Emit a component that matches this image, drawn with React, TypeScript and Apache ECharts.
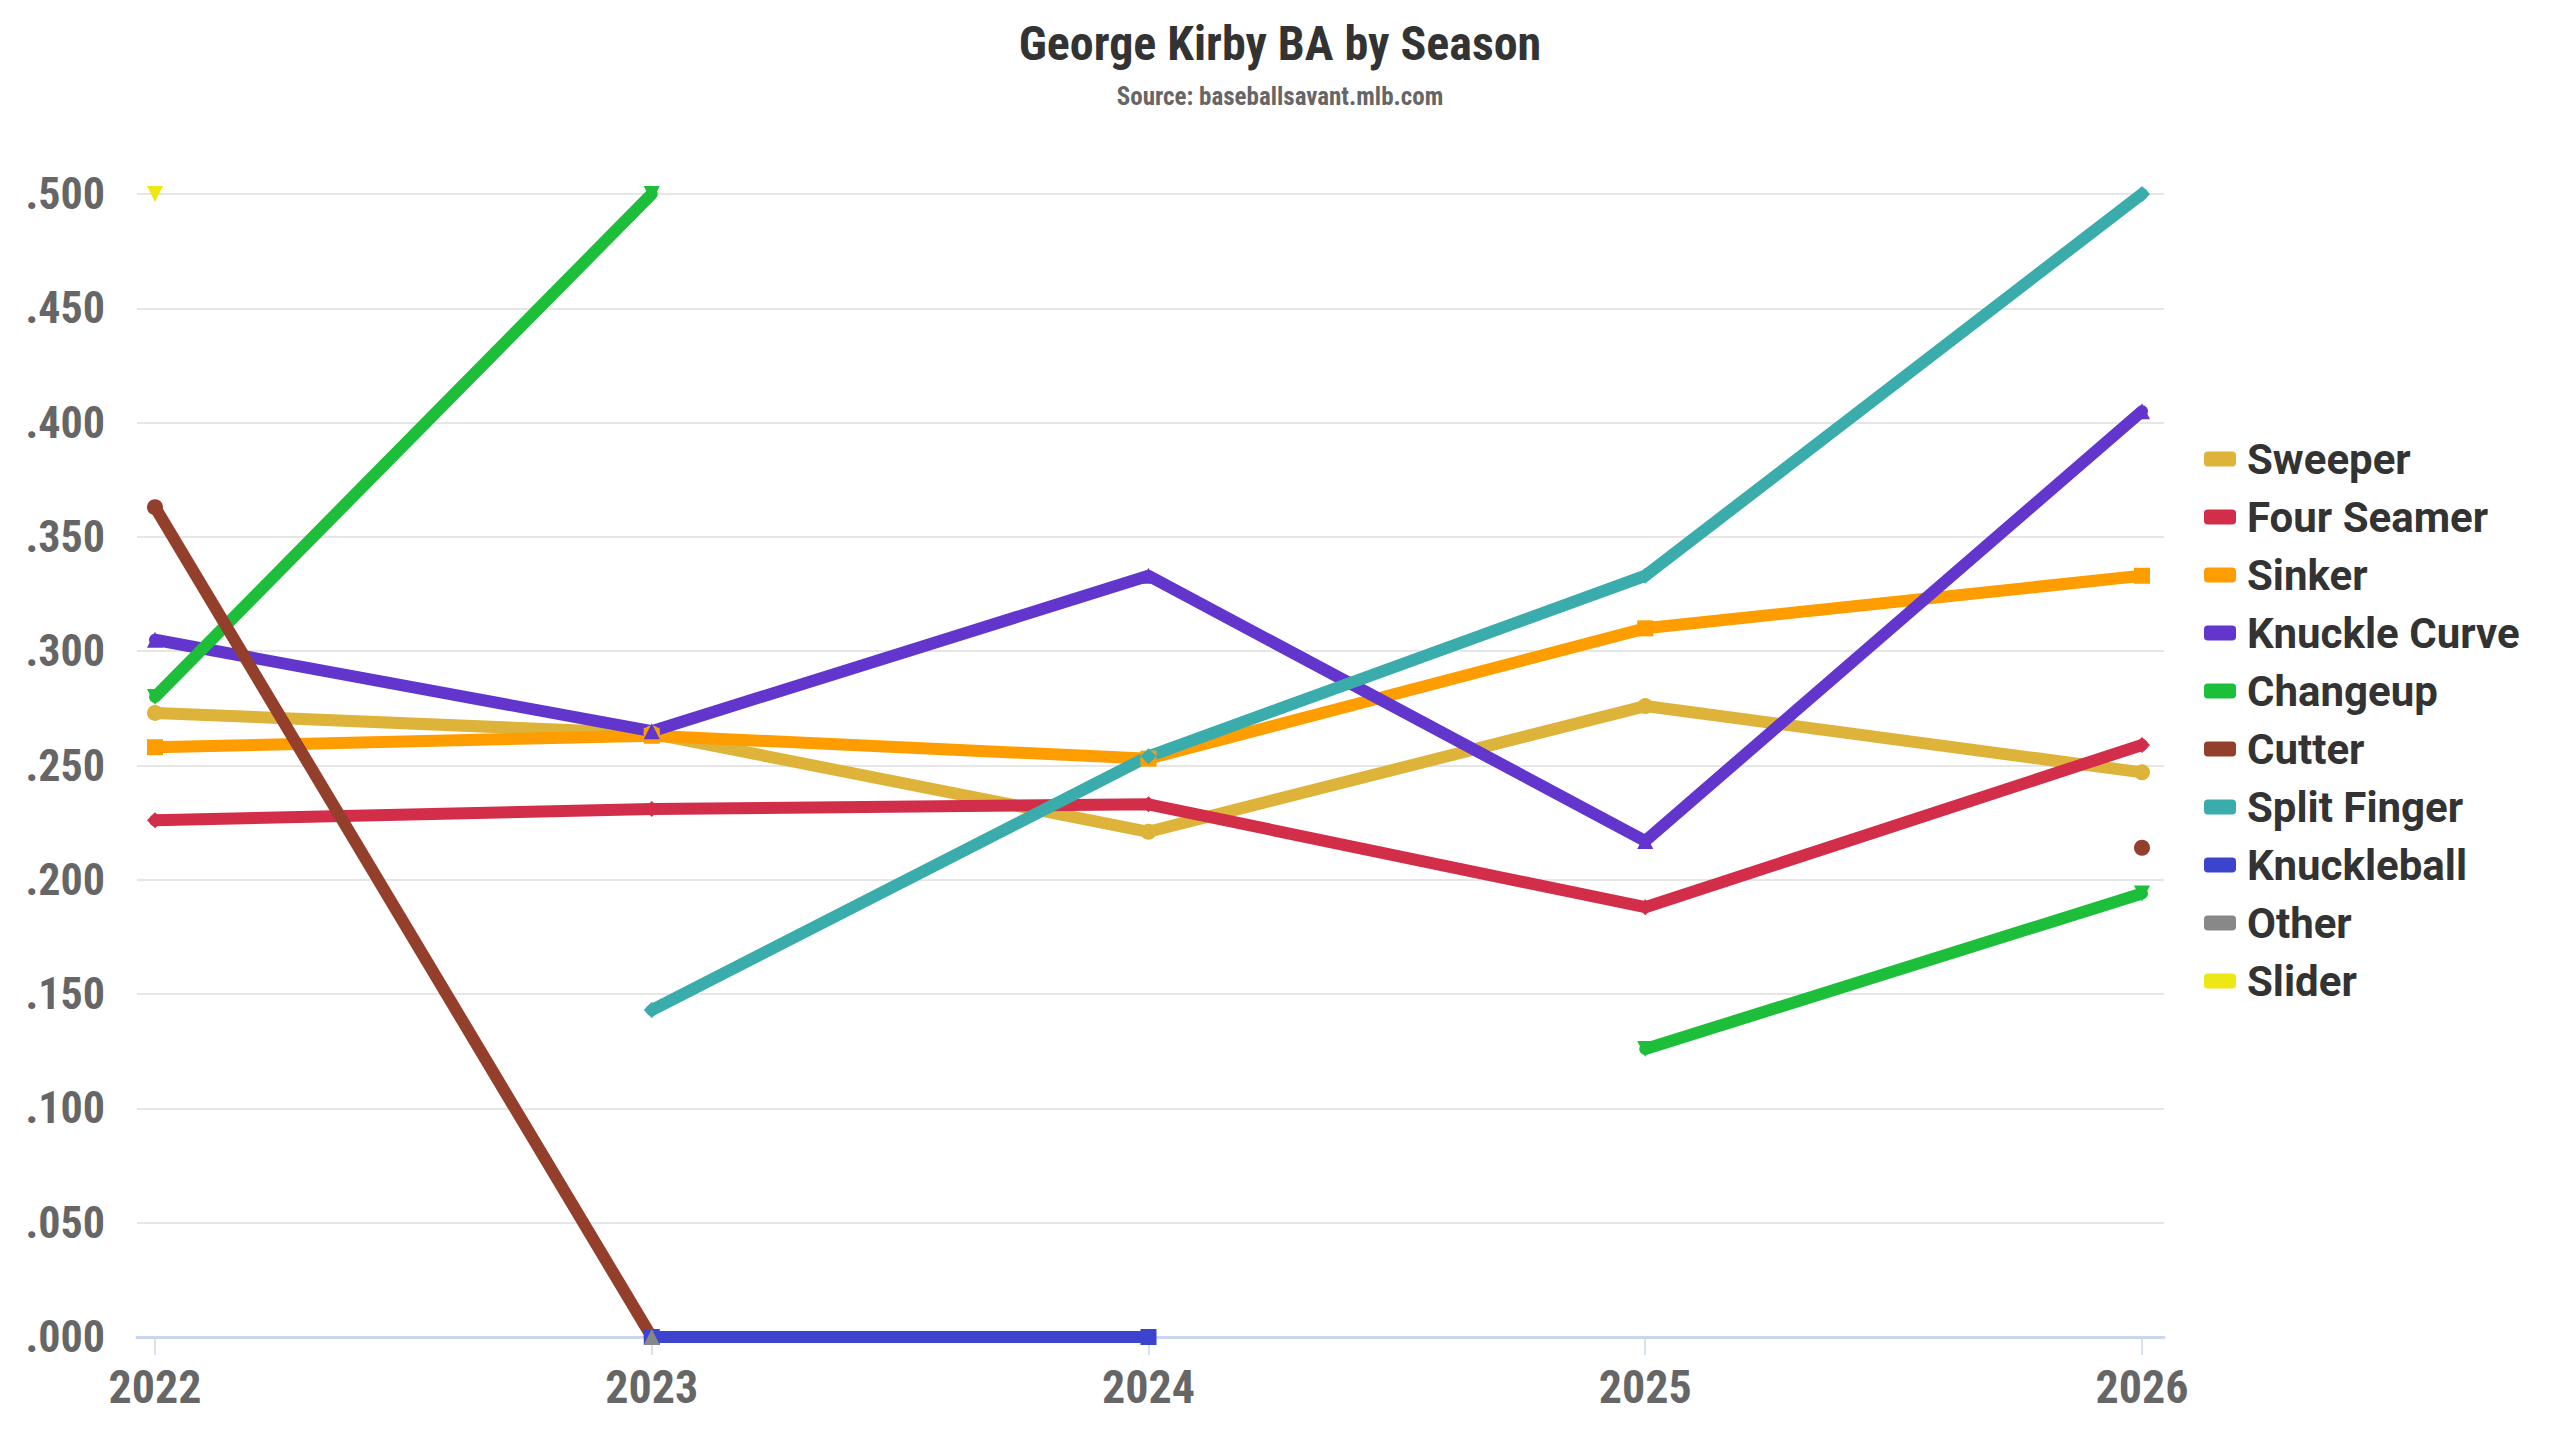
import React, { useEffect, useRef } from "react";
import * as echarts from "echarts";

const seasons = [2022, 2023, 2024, 2025, 2026];
const yTicks = [0, 0.05, 0.1, 0.15, 0.2, 0.25, 0.3, 0.35, 0.4, 0.45, 0.5];

const pitchNames = [
  "Sweeper",
  "Four Seamer",
  "Sinker",
  "Knuckle Curve",
  "Changeup",
  "Cutter",
  "Split Finger",
  "Knuckleball",
  "Other",
  "Slider",
];

const sweeper = [0.273, 0.264, 0.221, 0.276, 0.247];
const fourSeamer = [0.226, 0.231, 0.233, 0.188, 0.259];
const sinker = [0.258, 0.263, 0.253, 0.31, 0.333];
const knuckleCurve = [0.305, 0.265, 0.333, 0.217, 0.405];
const changeup = [0.28, 0.5, null, 0.126, 0.194];
const cutter = [0.363, 0.0, null, null, 0.214];
const splitFinger = [null, 0.143, 0.254, 0.333, 0.5];
const knuckleball = [null, 0.0, 0.0, null, null];
const other = [null, 0.0, null, null, null];
const slider = [0.5, null, null, null, null];

const seriesValues = [
  sweeper,
  fourSeamer,
  sinker,
  knuckleCurve,
  changeup,
  cutter,
  splitFinger,
  knuckleball,
  other,
  slider,
];

const colors = [
  "#DDB33A",
  "#D22D49",
  "#FE9D00",
  "#6236CD",
  "#1DBE3A",
  "#933F2C",
  "#3BACAC",
  "#3C44CD",
  "#888888",
  "#EEE716",
];

const symbols = [
  "circle",
  "diamond",
  "rect",
  "triangle",
  "path://M0,0 L10,0 L5,10 Z",
  "circle",
  "diamond",
  "rect",
  "triangle",
  "path://M0,0 L10,0 L5,10 Z",
];

const condensed = "'Roboto Condensed', 'Liberation Sans Narrow', 'DejaVu Sans Condensed', Roboto, sans-serif";

export default function App() {
  const ref = useRef<HTMLDivElement>(null);

  useEffect(() => {
    if (!ref.current) return;
    const chart = echarts.init(ref.current, null, { renderer: "svg" });
    const option = {
      animation: false,
      backgroundColor: "#ffffff",
      color: colors,
      title: {
        text: "George Kirby BA by Season",
        subtext: "Source: baseballsavant.mlb.com",
        left: "center",
        top: 14,
        itemGap: 17,
        textStyle: {
          fontFamily: condensed,
          fontWeight: "bold",
          fontSize: 48,
          color: "#333333",
        },
        subtextStyle: {
          fontFamily: condensed,
          fontWeight: "bold",
          fontSize: 25,
          color: "#666666",
        },
      },
      legend: {
        orient: "vertical",
        left: 2199,
        top: "middle",
        icon: "roundRect",
        itemWidth: 32,
        itemHeight: 15,
        itemGap: 16,
        data: pitchNames,
        textStyle: {
          fontFamily: "Roboto, sans-serif",
          fontWeight: "bold",
          fontSize: 42,
          lineHeight: 42,
          color: "#333333",
          padding: [0, 0, 0, 6],
        },
      },
      grid: {
        left: 137,
        right: 396,
        top: 194,
        bottom: 103,
        containLabel: false,
      },
      xAxis: {
        type: "value",
        min: 2022 - 18 / 496.75,
        max: 2026 + 22 / 496.75,
        axisLine: { show: true, lineStyle: { color: "#ccd6eb", width: 3 } },
        axisTick: {
          show: true,
          length: 18,
          customValues: seasons,
          lineStyle: { color: "#ccd6eb", width: 1.5 },
        },
        splitLine: { show: false },
        axisLabel: {
          customValues: seasons,
          formatter: (v: number) => String(Math.round(v)),
          fontFamily: condensed,
          fontWeight: "bold",
          fontSize: 46,
          color: "#666666",
          margin: 27,
        },
      },
      yAxis: {
        type: "value",
        min: 0,
        max: 0.5,
        interval: 0.05,
        axisLine: { show: false },
        axisTick: { show: false },
        splitLine: { show: true, lineStyle: { color: "#e6e6e6", width: 2 } },
        axisLabel: {
          customValues: yTicks,
          formatter: (v: number) => v.toFixed(3).replace(/^0/, ""),
          fontFamily: condensed,
          fontWeight: "bold",
          fontSize: 44,
          color: "#666666",
          margin: 32,
        },
      },
      series: pitchNames.map((name, i) => ({
        name,
        type: "line",
        connectNulls: false,
        symbol: symbols[i],
        symbolSize: 16,
        showSymbol: true,
        showAllSymbol: true,
        lineStyle: { width: 12, color: colors[i], cap: "round", join: "round" },
        itemStyle: { color: colors[i] },
        emphasis: { disabled: true },
        data: seasons.map((yr, j) => [yr, seriesValues[i][j] === null ? "-" : seriesValues[i][j]]),
      })),
    };
    chart.setOption(option as any);
    return () => chart.dispose();
  }, []);

  return (
    <div
      ref={ref}
      style={{ position: "fixed", left: 0, top: 0, width: 2560, height: 1440, background: "#fff" }}
    />
  );
}
